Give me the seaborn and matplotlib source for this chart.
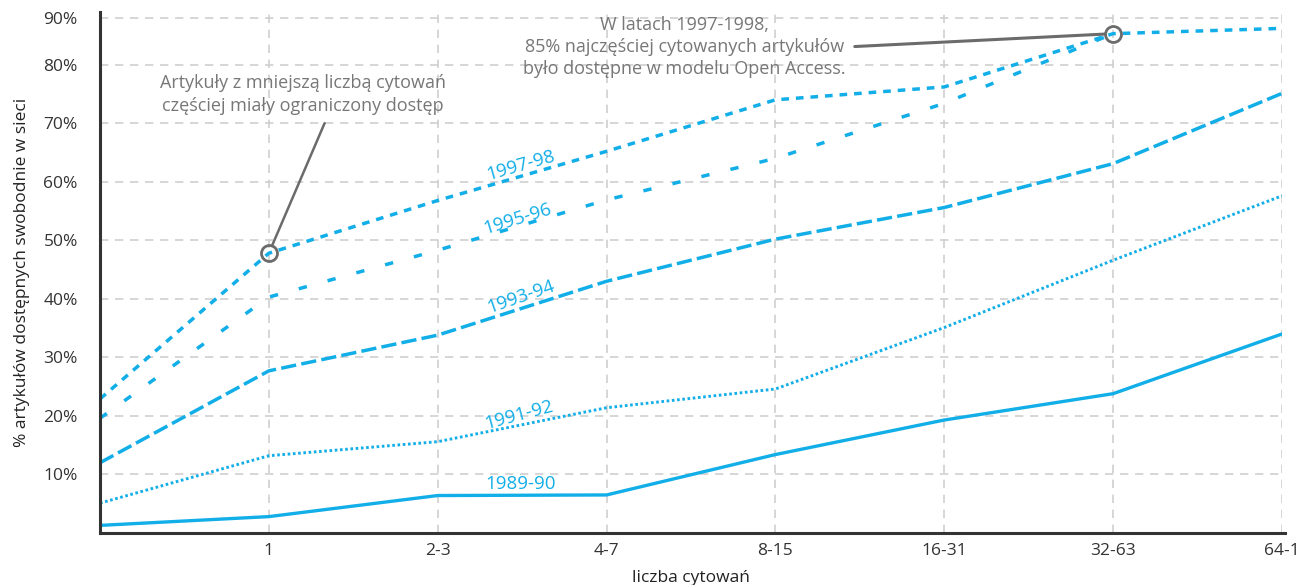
import matplotlib
matplotlib.use('Agg')
import matplotlib.pyplot as plt
import pandas as pd
import seaborn as sns

# dane
kategorie = ['', '1', '2-3', '4-7', '8-15', '16-31', '32-63', '64-1']
poz = list(range(len(kategorie)))
s_1989 = [1.3, 2.8, 6.4, 6.5, 13.4, 19.3, 23.8, 34.0]
s_1991 = [5.1, 13.2, 15.6, 21.4, 24.6, 35.1, 46.6, 57.6]
s_1993 = [12.0, 27.7, 33.8, 43.0, 50.2, 55.6, 63.1, 75.1]
s_1995 = [19.6, 40.3, 48.3, 56.9, 64.0, 73.4, 85.3, None]
s_1997 = [22.9, 47.8, 56.8, 65.2, 74.0, 76.2, 85.3, 86.2]
okresy = ['1989-90', '1991-92', '1993-94', '1995-96', '1997-98']
serie = [s_1989, s_1991, s_1993, s_1995, s_1997]

niebieski = '#12AEE8'
szary = '#6b6b6b'

sns.set_style('white')
plt.rcParams['font.family'] = ['Open Sans', 'DejaVu Sans']

df = pd.DataFrame({'poz': poz})
for okres, s in zip(okresy, serie):
    df[okres] = s

fig = plt.figure(figsize=(13, 5.85), dpi=100)
ax = fig.add_axes([100 / 1300, 1 - 533 / 585, 1182 / 1300, 521 / 585])

style = {
    '1989-90': ('-', 2.4),
    '1991-92': ((0, (0.9, 0.9)), 2.1),
    '1993-94': ((0, (4.4, 1.5)), 2.5),
    '1995-96': ((0, (2.4, 6.2)), 2.5),
    '1997-98': ((0, (2.2, 2.0)), 2.5),
}
for okres in okresy:
    ls, lw = style[okres]
    sns.lineplot(data=df, x='poz', y=okres, ax=ax, color=niebieski,
                 linestyle=ls, linewidth=lw)

# etykiety serii przy liniach
etykiety = {'1997-98': (2.49, 62.8, 16), '1995-96': (2.47, 53.6, 17),
            '1993-94': (2.49, 40.4, 19), '1991-92': (2.48, 20.2, 15),
            '1989-90': (2.49, 8.3, 0)}
for okres, (x, y, rot) in etykiety.items():
    ax.text(x, y, okres, color=niebieski, fontsize=13.5, rotation=rot,
            ha='center', va='center', rotation_mode='anchor')

# adnotacje
ax.plot([1], [s_1997[1]], marker='o', ms=11.5, mfc='none', mec=szary, mew=2, zorder=5)
ax.plot([6], [s_1997[6]], marker='o', ms=11.5, mfc='none', mec=szary, mew=2, zorder=5)
ax.annotate('', xy=(1, s_1997[1]), xytext=(1.33, 70.0),
            arrowprops=dict(arrowstyle='-', color=szary, lw=1.8, shrinkA=0, shrinkB=6))
ax.annotate('', xy=(6, s_1997[6]), xytext=(4.47, 83.1),
            arrowprops=dict(arrowstyle='-', color=szary, lw=2.2, shrinkA=0, shrinkB=6))
ax.text(1.2, 74.9, 'Artykuły z mniejszą liczbą cytowań\nczęściej miały ograniczony dostęp',
        ha='center', va='center', color='#777777', fontsize=13, linespacing=1.35)
ax.text(3.46, 83.0, 'W latach 1997-1998,\n85% najczęściej cytowanych artykułów\nbyło dostępne w modelu Open Access.',
        ha='center', va='center', color='#777777', fontsize=13, linespacing=1.3)

ax.set_xlim(0, 7)
ax.set_ylim(0, 89)
ax.set_xticks(poz[1:])
ax.set_xticklabels(kategorie[1:])
yt = [10, 20, 30, 40, 50, 60, 70, 80, 88]
ax.set_yticks(yt)
ax.set_yticklabels(['10%', '20%', '30%', '40%', '50%', '60%', '70%', '80%', '90%'])
ax.grid(True, color='#cfcfcf', linestyle=(0, (5, 4)), linewidth=1.2)
ax.set_axisbelow(True)
ax.tick_params(direction='in', length=7, width=1.5, colors='#333333', labelsize=12.5, pad=7)
ax.tick_params(axis='y', pad=16)
for sp in ['top', 'right']:
    ax.spines[sp].set_visible(False)
for sp in ['left', 'bottom']:
    ax.spines[sp].set_color('#333333')
    ax.spines[sp].set_linewidth(2.2)
ax.spines['bottom'].set_bounds(0, 7.02)
ax.set_xlabel('liczba cytowań', fontsize=12.5, color='#222222', labelpad=8)
ax.set_ylabel('% artykułów dostępnych swobodnie w sieci', fontsize=12.5, color='#222222', labelpad=10)

fig.savefig('out.png', dpi=100)
